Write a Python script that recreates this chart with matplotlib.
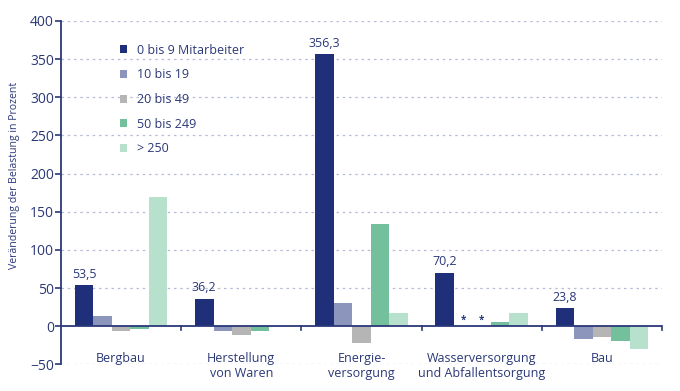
import matplotlib.pyplot as plt
import numpy as np

plt.rcParams['font.family'] = ['Open Sans', 'DejaVu Sans']

categories = ['Bergbau', 'Herstellung\nvon Waren', 'Energie-\nversorgung',
              'Wasserversorgung\nund Abfallentsorgung', 'Bau']
series = ['0 bis 9 Mitarbeiter', '10 bis 19', '20 bis 49', '50 bis 249', '> 250']
v_0_9 = [53.5, 36.2, 356.3, 70.2, 23.8]
v_10_19 = [13, -6, 31, np.nan, -17]
v_20_49 = [-6.5, -12, -22, np.nan, -14]
v_50_249 = [-3, -6, 134, 6, -19.5]
v_250 = [170, -1, 18, 17, -29.5]
values = [v_0_9, v_10_19, v_20_49, v_50_249, v_250]
colors = ['#1f2f7a', '#8c96bd', '#b5b5b5', '#74c09c', '#b8e1cd']
navy = '#2b3878'

fig = plt.figure(figsize=(6.8, 3.91), dpi=100)
ax = fig.add_axes([0.0897, 0.0678, 0.8838, 0.8788])

x = np.arange(len(categories))
w = 0.154
offs = (np.arange(5) - 2) * w
for vals, off, c, lab in zip(values, offs, colors, series):
    ax.bar(x + off, vals, width=w, color=c, label=lab, zorder=3, linewidth=0)

# value labels on the first series
for xi, v in zip(x, v_0_9):
    ax.text(xi + offs[0], v + 6, f'{v:.1f}'.replace('.', ','), ha='center',
            va='bottom', color=navy, fontsize=9)

# missing values
for si in range(5):
    for ci in range(len(categories)):
        if np.isnan(values[si][ci]):
            ax.text(x[ci] + offs[si], 1, '*', ha='center', va='bottom',
                    color=navy, fontsize=7, fontweight='bold')

ax.set_xlim(-0.5, len(categories) - 0.5)
ax.set_ylim(-50, 400)
ax.set_yticks(np.arange(-50, 401, 50))
for yv in np.arange(-50, 401, 50):
    if yv != 0:
        ax.axhline(yv, color='#b7bdd8', linestyle=(0, (2, 3)), linewidth=0.9, zorder=1)

for s in ['top', 'right', 'bottom']:
    ax.spines[s].set_visible(False)
ax.spines['left'].set_color(navy)
ax.spines['left'].set_linewidth(1.3)
ax.tick_params(axis='y', colors=navy, labelsize=10, length=4, width=1.2, pad=1)
ax.set_xticks([])

# zero line with group separators
ax.axhline(0, color=navy, linewidth=1.3, zorder=4)
for b in np.arange(0.5, len(categories), 1.0):
    ax.plot([b, b], [0, -5], color=navy, linewidth=1.2, clip_on=False, zorder=4)

for xi, lab in zip(x, categories):
    ax.text(xi, -33, lab, ha='center', va='top', color=navy, fontsize=9,
            linespacing=1.2, clip_on=False)

ax.set_ylabel('Veränderung der Belastung in Prozent', color=navy, fontsize=7.6)
ax.yaxis.set_label_coords(-0.068, 0.551)

leg = ax.legend(loc='upper left', bbox_to_anchor=(0.079, 0.966), frameon=False,
                fontsize=9, handlelength=0.6, handleheight=0.6,
                labelspacing=0.93, handletextpad=0.75)
for t in leg.get_texts():
    t.set_color(navy)

fig.savefig('out.png', dpi=100)
